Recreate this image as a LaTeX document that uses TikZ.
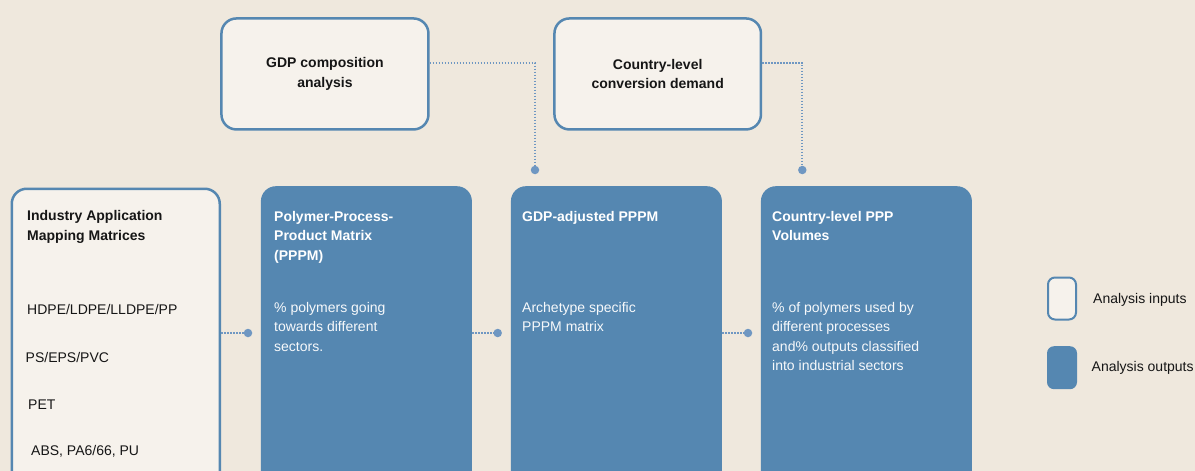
\documentclass[tikz,border=0pt]{standalone}
\usepackage{fontspec}
\setmainfont{Liberation Sans}
\usetikzlibrary{positioning}

\definecolor{bgcream}{HTML}{EFE8DD}
\definecolor{incream}{HTML}{F6F2EC}
\definecolor{boxblue}{HTML}{5587B1}
\definecolor{dotblue}{HTML}{6F97C2}
\definecolor{inktext}{HTML}{161616}

\begin{document}
\begin{tikzpicture}[x=1pt,y=-1pt,
    inbox/.style={draw=boxblue,line width=2.5pt,fill=incream,rounded corners=15pt,
      anchor=north west,inner sep=0pt},
    outbox/.style={fill=boxblue,rounded corners=15pt,anchor=north west,inner sep=0pt},
    head/.style={font=\fontsize{14}{19.5}\selectfont\bfseries,align=left,
      anchor=north west,inner sep=0pt,text=inktext},
    body/.style={font=\fontsize{14}{19.5}\selectfont,align=left,
      anchor=north west,inner sep=0pt,text=inktext},
    link/.style={draw=dotblue,line width=1.8pt,dash pattern=on 1.5pt off 1.5pt},
    pin/.style={circle,fill=dotblue,inner sep=0pt,minimum size=8.5pt}]

    \fill[bgcream] (0,0) rectangle (1195,471);
    \useasboundingbox (0,0) rectangle (1195,471);
    \clip (0,0) rectangle (1195,471);

    % input boxes
    \node[inbox,minimum width=208pt,minimum height=320pt] (maps) at (10.5,187.5) {};
    \node[inbox,minimum width=207pt,minimum height=111pt,
      font=\fontsize{14}{19.5}\selectfont\bfseries,align=center,text=inktext]
      (gdp) at (220.2,17.2) {GDP composition\\analysis};
    \node[inbox,minimum width=206.5pt,minimum height=111pt,
      font=\fontsize{14}{19.5}\selectfont\bfseries,align=center,text=inktext]
      (demand) at (553.2,17.2) {Country-level\\conversion demand};

    % output boxes
    \node[outbox,minimum width=211pt,minimum height=320pt] (pppm) at (260.7,186) {};
    \node[outbox,minimum width=211pt,minimum height=320pt] (adj) at (510.7,186) {};
    \node[outbox,minimum width=211pt,minimum height=320pt] (vol) at (760.7,186) {};

    % texts in the boxes
    \node[head] (mapst) at (27,210.5) {Industry Application\\Mapping Matrices};
    \node[body] (m1) at (27,304) {HDPE/LDPE/LLDPE/PP};
    \node[body] (m2) at (25.5,352) {PS/EPS/PVC};
    \node[body] (m3) at (28,400) {PET};
    \node[body] (m4) at (31,445.5) {ABS, PA6/66, PU};

    \node[head,text=white] (pppmt) at (274,211) {Polymer-Process-\\Product Matrix\\(PPPM)};
    \node[body,text=white!95!boxblue] (pppmb) at (274,302)
      {\% polymers going\\towards different\\sectors.};
    \node[head,text=white] (adjt) at (522,211) {GDP-adjusted PPPM};
    \node[body,text=white!95!boxblue] (adjb) at (522,302)
      {Archetype specific\\PPPM matrix};
    \node[head,text=white] (volt) at (772,211) {Country-level PPP\\Volumes};
    \node[body,text=white!95!boxblue] (volb) at (772,302)
      {\% of polymers used by\\different processes\\and\% outputs classified\\into industrial sectors};

    % connectors
    \node[pin] (d1) at (248,333) {};
    \node[pin] (d2) at (497.7,333) {};
    \node[pin] (d3) at (748,333) {};
    \node[pin] (d4) at (535,170) {};
    \node[pin] (d5) at (802.3,170) {};

    \draw[link] (maps.east |- d1) -- (d1);
    \draw[link] (pppm.east |- d2) -- (d2);
    \draw[link] (adj.east |- d3) -- (d3);
    \draw[link] ([yshift=11pt]gdp.east) -| (d4);
    \draw[link] ([yshift=11pt]demand.east) -| (d5);

    % legend
    \node[draw=boxblue,line width=2pt,fill=incream,rounded corners=7pt,
      minimum width=28pt,minimum height=42pt,inner sep=0pt] (keyin) at (1062,298.5) {};
    \node[fill=boxblue,rounded corners=7pt,
      minimum width=30pt,minimum height=43pt,inner sep=0pt] (keyout) at (1062,367.7) {};
    \node[body,anchor=west] (keyint) at (1093,300) {Analysis inputs};
    \node[body,anchor=west] (keyoutt) at (1091.5,367.7) {Analysis outputs};
\end{tikzpicture}
\end{document}
